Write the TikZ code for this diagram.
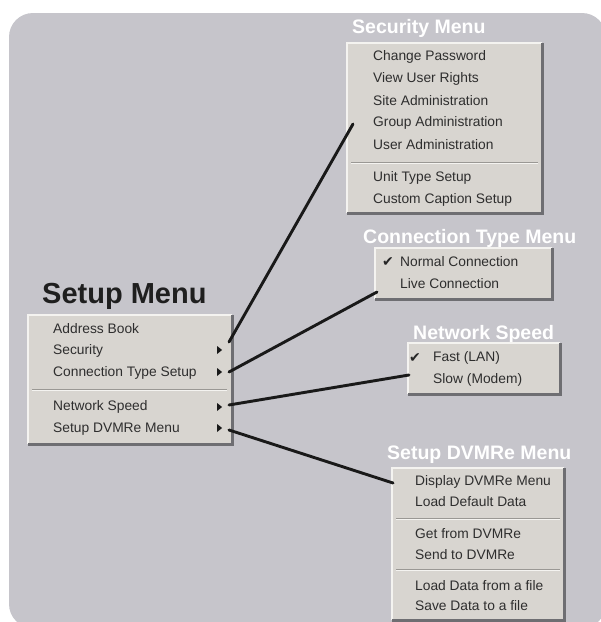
\documentclass[tikz,border=0pt]{standalone}
\usepackage{fontspec}
\setmainfont{Liberation Sans}
\newfontfamily\symfont{DejaVu Sans}
\usetikzlibrary{shapes.geometric}
\definecolor{panel}{HTML}{C6C5CB}
\definecolor{menufill}{HTML}{D8D5D0}
\definecolor{menudark}{HTML}{6E6E72}
\definecolor{menulight}{HTML}{F4F3F0}
\definecolor{itemtext}{HTML}{2E2E2E}
\definecolor{sepdark}{HTML}{9A9894}
\tikzset{
  menubox/.style={rectangle, fill=menufill, draw=none, inner sep=0pt, anchor=north west},
  item/.style={anchor=west, inner sep=0pt, text=itemtext, font=\fontsize{13.8}{14}\selectfont},
  subtitle/.style={anchor=base west, inner sep=0pt, text=white, font=\fontsize{19.5}{20}\selectfont\bfseries},
  bigtitle/.style={anchor=base west, inner sep=0pt, text=black!88, font=\fontsize{29}{30}\selectfont\bfseries},
  chk/.style={anchor=west, inner sep=0pt, text=black!85, font=\symfont\fontsize{14}{15}\selectfont},
  subarrow/.style={isosceles triangle, isosceles triangle stretches, fill=black!90, draw=none,
     inner sep=0pt, minimum width=8pt, minimum height=5pt},
  conn/.style={line width=2.9pt, draw=black!90, line cap=round},
  sepline/.style={draw=sepdark, line width=1pt},
  seplight/.style={draw=menulight, line width=1pt},
}
\newcommand\bevel[1]{%
  \draw[menulight, line width=1.6pt] (#1.south west) -- (#1.north west) -- (#1.north east);
  \draw[menudark, line width=2.2pt] (#1.north east) -- (#1.south east) -- (#1.south west);
}
\begin{document}
\begin{tikzpicture}[x=1pt, y=-1pt]
\useasboundingbox (0,0) rectangle (601,622);
\clip (0,0) rectangle (601,622);
\fill[white] (0,0) rectangle (601,622);
\fill[panel, rounded corners=24pt] (9,13) rectangle (606,628);

% ---------- Setup Menu ----------
\node[bigtitle] (tMain) at (42,303) {Setup Menu};
\node[menubox, minimum width=204pt, minimum height=129pt] (main) at (28,315) {};
\bevel{main}
\draw[sepline] (32,389) -- (227,389);
\draw[seplight] (32,390.5) -- (227,390.5);
\node[item] (mAddr) at (53,329) {Address Book};
\node[item] (mSec) at (53,351) {Security};
\node[item] (mConn) at (53,373) {Connection Type Setup};
\node[item] (mNet) at (53,407) {Network Speed};
\node[item] (mDvm) at (53,429) {Setup DVMRe Menu};
\node[subarrow] (aSec) at (219,350) {};
\node[subarrow] (aConn) at (219,372) {};
\node[subarrow] (aNet) at (219,407) {};
\node[subarrow] (aDvm) at (219,428) {};
\coordinate (sSec) at (229,342);
\coordinate (sConn) at (229,372);
\coordinate (sNet) at (229,405);
\coordinate (sDvm) at (229,430);

% ---------- Security Menu ----------
\node[subtitle] (tSec) at (352,33) {Security Menu};
\node[menubox, minimum width=195pt, minimum height=170pt] (sec) at (347,43) {};
\bevel{sec}
\draw[sepline] (351,162) -- (538,162);
\draw[seplight] (351,163.5) -- (538,163.5);
\node[item] (s1) at (373,57) {Change Password};
\node[item] (s2) at (373,79) {View User Rights};
\node[item] (s3) at (373,101) {Site Administration};
\node[item] (s4) at (373,123) {Group Administration};
\node[item] (s5) at (373,145) {User Administration};
\node[item] (s6) at (373,178) {Unit Type Setup};
\node[item] (s7) at (373,200) {Custom Caption Setup};
\coordinate (eSec) at (353,124);

% ---------- Connection Type Menu ----------
\node[subtitle] (tConn) at (363,243) {Connection Type Menu};
\node[menubox, minimum width=177pt, minimum height=51pt] (con) at (375,248) {};
\bevel{con}
\node[chk] (c0) at (382,262) {✔};
\node[item] (c1) at (400,262) {Normal Connection};
\node[item] (c2) at (400,284) {Live Connection};
\coordinate (eConn) at (377,292);

% ---------- Network Speed ----------
\node[subtitle] (tNet) at (413,339) {Network Speed};
\node[menubox, minimum width=152pt, minimum height=51pt] (net) at (408,343) {};
\bevel{net}
\node[chk] (n0) at (409,358) {✔};
\node[item] (n1) at (433,358) {Fast (LAN)};
\node[item] (n2) at (433,380) {Slow (Modem)};
\coordinate (eNet) at (409,375);

% ---------- Setup DVMRe Menu ----------
\node[subtitle] (tDvm) at (387,459) {Setup DVMRe Menu};
\node[menubox, minimum width=172pt, minimum height=152pt] (dvm) at (392,468) {};
\bevel{dvm}
\draw[sepline] (396,518) -- (560,518);
\draw[seplight] (396,519.5) -- (560,519.5);
\draw[sepline] (396,569) -- (560,569);
\draw[seplight] (396,570.5) -- (560,570.5);
\node[item] (d1) at (415,482) {Display DVMRe Menu};
\node[item] (d2) at (415,502) {Load Default Data};
\node[item] (d3) at (415,534) {Get from DVMRe};
\node[item] (d4) at (415,555) {Send to DVMRe};
\node[item] (d5) at (415,586) {Load Data from a file};
\node[item] (d6) at (415,606) {Save Data to a file};
\coordinate (eDvm) at (393,483);

% ---------- connectors ----------
\draw[conn] (sSec) -- (eSec);
\draw[conn] (sConn) -- (eConn);
\draw[conn] (sNet) -- (eNet);
\draw[conn] (sDvm) -- (eDvm);
\end{tikzpicture}
\end{document}
